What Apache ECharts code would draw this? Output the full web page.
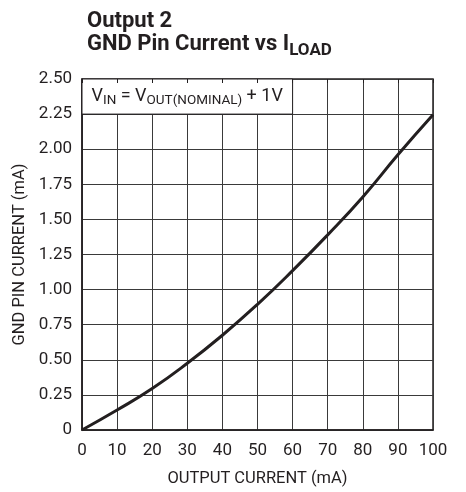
<!DOCTYPE html>
<html><head><meta charset="utf-8">
<script src="https://cdn.jsdelivr.net/npm/echarts@6/dist/echarts.min.js"></script>
<style>html,body{margin:0;padding:0;background:#fff}#c{width:466px;height:492px}</style>
</head><body><div id="c"></div>
<script>
const xValues = [0, 10, 20, 30, 40, 50, 60, 70, 80, 90, 100];
const gndCurrent = [0, 0.142, 0.295, 0.475, 0.675, 0.895, 1.135, 1.39, 1.66, 1.96, 2.245];
const yTickLabels = ['0','0.25','0.50','0.75','1.00','1.25','1.50','1.75','2.00','2.25','2.50'];
const xTickLabels = ['0','10','20','30','40','50','60','70','80','90','100'];
const FONT = "'Liberation Sans Narrow', 'Roboto', sans-serif";
const chart = echarts.init(document.getElementById('c'), null, {renderer: 'canvas'});
chart.setOption({
  animation: false,
  backgroundColor: '#fff',
  title: {
    left: 82, top: 5,
    text: '{a|Output 2}\n{a|GND Pin Current vs I}{s|LOAD}',
    textStyle: {
      rich: {
        a: {fontFamily: FONT, fontWeight: 'bold', fontSize: 22, color: '#231f20', lineHeight: 23},
        s: {fontFamily: FONT, fontWeight: 'bold', fontSize: 17, color: '#231f20', lineHeight: 23, padding: [13, 0, 0, 0]}
      }
    }
  },
  grid: {left: 82, top: 79, right: 33, bottom: 62, show: true, borderColor: '#231f20', borderWidth: 1.5, backgroundColor: 'transparent'},
  xAxis: [{
    type: 'value', min: 0, max: 100, interval: 10,
    name: 'OUTPUT CURRENT (mA)', nameLocation: 'middle', nameGap: 40,
    nameTextStyle: {fontFamily: FONT, fontSize: 16.5, color: '#231f20'},
    axisLine: {show: true, lineStyle: {color: '#231f20', width: 1.5}},
    axisTick: {show: false},
    axisLabel: {fontFamily: FONT, fontSize: 17, color: '#231f20', margin: 12,
      formatter: (v) => xTickLabels[Math.round(v / 10)]},
    splitLine: {show: true, lineStyle: {color: '#3a3a3a', width: 1}}
  }, {
    type: 'value', min: 0, max: 100, interval: 10, position: 'top', z: 10,
    axisLine: {show: false}, axisLabel: {show: false}, splitLine: {show: false},
    axisTick: {show: true, inside: true, length: 4, lineStyle: {color: '#231f20', width: 1}}
  }],
  yAxis: {
    type: 'value', min: 0, max: 2.5, interval: 0.25,
    name: 'GND PIN CURRENT (mA)', nameLocation: 'middle', nameGap: 52,
    nameTextStyle: {fontFamily: FONT, fontSize: 16.5, color: '#231f20'},
    axisLine: {show: true, lineStyle: {color: '#231f20', width: 1.5}},
    axisTick: {show: false},
    axisLabel: {fontFamily: FONT, fontSize: 17, color: '#231f20', margin: 10,
      formatter: (v) => yTickLabels[Math.round(v / 0.25)]},
    splitLine: {show: true, lineStyle: {color: '#3a3a3a', width: 1}}
  },
  series: [{
    type: 'line', smooth: true, symbol: 'none',
    data: xValues.map((x, i) => [x, gndCurrent[i]]),
    lineStyle: {color: '#231f20', width: 3},
    markArea: {
      silent: true,
      itemStyle: {color: '#fff', borderColor: '#231f20', borderWidth: 1},
      label: {
        show: true, position: 'insideLeft', distance: 10,
        formatter: '{n|V}{s|IN}{n| = V}{s|OUT(NOMINAL)}{n| + 1V}',
        rich: {
          n: {fontFamily: FONT, fontSize: 18, color: '#231f20'},
          s: {fontFamily: FONT, fontSize: 13.5, color: '#231f20', padding: [8, 0, 0, 0]}
        }
      },
      data: [[{coord: [0, 2.25]}, {coord: [60, 2.5]}]]
    }
  }]
});
</script></body></html>
